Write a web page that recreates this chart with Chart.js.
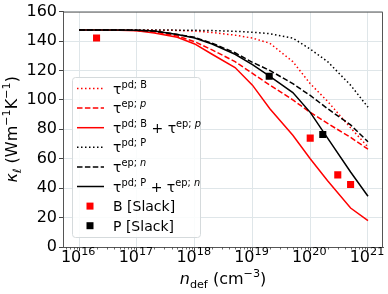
<!DOCTYPE html>
<html lang="en">
<head>
<meta charset="UTF-8">
<title>kappa vs n_def</title>
<style>
  body { margin: 0; padding: 0; background: #fff; }
  canvas { display: block; }
</style>
</head>
<body>
<canvas id="chart" width="388" height="294"></canvas>
<script src="https://cdn.jsdelivr.net/npm/chart.js"></script>
<script>
// defect concentration (cm^-3) where the curves were sampled
const nDef = [1e16, 2e16, 5e16, 1e17, 2e17, 5e17, 1e18, 2e18, 5e18, 1e19, 2e19, 5e19, 1e20, 2e20, 5e20, 1e21];

// boron doped (red)
const kPdB  = [147.5, 147.5, 147.5, 147.5, 147.4, 147.2, 146.8, 145.8, 144, 142, 138.5, 126, 111, 99, 81, 68];
const kEpP  = [147.5, 147.5, 147.4, 147.2, 146.2, 143.5, 139.5, 134, 126, 118, 110, 100, 91.5, 84, 74.5, 66.5];
const kSumB = [147.5, 147.5, 147.3, 147, 145.5, 142.5, 138, 131, 122, 110, 94, 76, 60, 45, 26.5, 18];

// phosphorus doped (black)
const kPdP  = [147.5, 147.5, 147.5, 147.5, 147.5, 147.4, 147.3, 147.1, 146.6, 146, 145, 142, 134.5, 126, 110, 95];
const kEpN  = [147.5, 147.5, 147.5, 147.3, 146.8, 144.5, 142.5, 138.5, 132, 125.5, 120, 111, 103, 94, 83, 71.5];
const kSumP = [147.5, 147.5, 147.5, 147.3, 146.8, 144.5, 142, 138, 131, 124, 116, 105, 91.5, 74, 51, 34.5];

// Slack measurements
const slackBn = [2e16, 1e20, 3e20, 5e20];
const slackBk = [142, 74, 49, 42.5];
const slackPn = [1.95e19, 1.65e20];
const slackPk = [116, 76.5];

const xDecades = [16, 17, 18, 19, 20, 21];
const yTicks = [0, 20, 40, 60, 80, 100, 120, 140, 160];

const RED = '#ff0000';
const BLACK = '#000000';
const FONT = '"DejaVu Sans"';
const DOT = [1.5, 2.5];
const DASH = [5.5, 2.4];

function pts(xs, ys) {
    return xs.map((x, i) => ({ x: x, y: ys[i] }));
}

function lineSet(label, ys, color, dash, order) {
    return {
        label: label,
        data: pts(nDef, ys),
        showLine: true,
        borderColor: color,
        borderWidth: 1.5,
        borderDash: dash,
        pointRadius: 0,
        fill: false,
        order: order
    };
}

// draw text with super/subscripts: parts = [text, mode(0 base, 1 sup, -1 sub), italic]
function rich(ctx, parts, x, y, size, align) {
    let total = 0;
    const items = parts.map(([t, m, it]) => {
        const s = m ? size * 0.7 : size;
        const f = (it ? 'italic ' : '') + s + 'px ' + FONT;
        ctx.font = f;
        const w = ctx.measureText(t).width;
        total += w;
        return { t, m, f, w };
    });
    let cx = align === 'center' ? x - total / 2 : (align === 'right' ? x - total : x);
    ctx.textAlign = 'left';
    ctx.textBaseline = 'alphabetic';
    items.forEach(it => {
        ctx.font = it.f;
        const dy = it.m === 1 ? -size * 0.42 : (it.m === -1 ? size * 0.24 : 0);
        ctx.fillText(it.t, cx, y + dy);
        cx += it.w;
    });
}

const legendItems = [
    { color: RED, dash: DOT, text: [['τ', 0], ['pd; B', 1]] },
    { color: RED, dash: DASH, text: [['τ', 0], ['ep; ', 1], ['p', 1, true]] },
    { color: RED, dash: [], text: [['τ', 0], ['pd; B', 1], [' + τ', 0], ['ep; ', 1], ['p', 1, true]] },
    { color: BLACK, dash: DOT, text: [['τ', 0], ['pd; P', 1]] },
    { color: BLACK, dash: DASH, text: [['τ', 0], ['ep; ', 1], ['n', 1, true]] },
    { color: BLACK, dash: [], text: [['τ', 0], ['pd; P', 1], [' + τ', 0], ['ep; ', 1], ['n', 1, true]] },
    { color: RED, marker: true, text: [['B [Slack]', 0]] },
    { color: BLACK, marker: true, text: [['P [Slack]', 0]] }
];

const decorPlugin = {
    id: 'decor',
    afterDatasetsDraw(chart) {
        const ctx = chart.ctx;
        const a = chart.chartArea;
        const xs = chart.scales.x;
        ctx.save();
        // top and right spines
        ctx.strokeStyle = '#555';
        ctx.lineWidth = 1;
        ctx.beginPath();
        ctx.moveTo(a.left, a.top + 0.5);
        ctx.lineTo(a.right - 0.5, a.top + 0.5);
        ctx.lineTo(a.right - 0.5, a.bottom);
        ctx.stroke();

        // minor log ticks
        ctx.strokeStyle = '#444';
        ctx.lineWidth = 0.8;
        for (let e = 15; e <= 21; e++) {
            for (let k = 2; k <= 9; k++) {
                const v = k * Math.pow(10, e);
                if (v < xs.min || v > xs.max) continue;
                const px = Math.round(xs.getPixelForValue(v)) + 0.5;
                ctx.beginPath();
                ctx.moveTo(px, a.bottom);
                ctx.lineTo(px, a.bottom + 2.5);
                ctx.stroke();
            }
        }

        // legend
        const lx = 72, ly = 77, lw = 128, lh = 160, r = 3;
        ctx.fillStyle = 'rgba(255,255,255,0.85)';
        ctx.strokeStyle = '#d5dadc';
        ctx.lineWidth = 1;
        ctx.beginPath();
        ctx.roundRect(lx + 0.5, ly + 0.5, lw, lh, r);
        ctx.fill();
        ctx.stroke();
        legendItems.forEach((item, i) => {
            const cy = 88.5 + i * 19.6;
            if (item.marker) {
                ctx.fillStyle = item.color;
                ctx.fillRect(86.5, cy - 3.5, 7, 7);
            } else {
                ctx.strokeStyle = item.color;
                ctx.lineWidth = 1.5;
                ctx.setLineDash(item.dash);
                ctx.beginPath();
                ctx.moveTo(77, cy);
                ctx.lineTo(104, cy);
                ctx.stroke();
                ctx.setLineDash([]);
            }
            ctx.fillStyle = '#000';
            rich(ctx, item.text, 113, cy + 5, 14, 'left');
        });
        ctx.restore();
    },
    afterDraw(chart) {
        const ctx = chart.ctx;
        const a = chart.chartArea;
        const xs = chart.scales.x;
        ctx.save();
        ctx.fillStyle = '#000';
        // x tick labels 10^n
        xDecades.forEach(e => {
            const px = xs.getPixelForValue(Math.pow(10, e));
            rich(ctx, [['10', 0], [String(e), 1]], px - 1, 262, 16, 'center');
        });
        // x title
        rich(ctx, [['n', 0, true], ['def', -1], [' (cm', 0], ['−3', 1], [')', 0]], (a.left + a.right) / 2, 284, 16, 'center');
        // y title
        ctx.translate(17, (a.top + a.bottom) / 2);
        ctx.rotate(-Math.PI / 2);
        rich(ctx, [['κ', 0, true], ['ℓ', -1, true], [' (Wm', 0], ['−1', 1], ['K', 0], ['−1', 1], [')', 0]], 0, 0, 16, 'center');
        ctx.restore();
    }
};

new Chart(document.getElementById('chart'), {
    type: 'scatter',
    data: {
        datasets: [
            lineSet('τpd;B', kPdB, RED, DOT, 8),
            lineSet('τep;p', kEpP, RED, DASH, 7),
            lineSet('τpd;B + τep;p', kSumB, RED, [], 6),
            lineSet('τpd;P', kPdP, BLACK, DOT, 5),
            lineSet('τep;n', kEpN, BLACK, DASH, 4),
            lineSet('τpd;P + τep;n', kSumP, BLACK, [], 3),
            {
                label: 'B [Slack]',
                data: pts(slackBn, slackBk),
                pointStyle: 'rect',
                pointRadius: 5,
                backgroundColor: RED,
                borderWidth: 0,
                order: 2
            },
            {
                label: 'P [Slack]',
                data: pts(slackPn, slackPk),
                pointStyle: 'rect',
                pointRadius: 5,
                backgroundColor: BLACK,
                borderWidth: 0,
                order: 1
            }
        ]
    },
    options: {
        responsive: false,
        animation: false,
        devicePixelRatio: 1,
        layout: { padding: { left: 0, right: 4, top: 7, bottom: 0 } },
        plugins: { legend: { display: false }, tooltip: { enabled: false } },
        scales: {
            x: {
                type: 'logarithmic',
                min: Math.pow(10, 15.72),
                max: Math.pow(10, 21.26),
                afterBuildTicks(scale) {
                    scale.ticks = xDecades.map(e => ({ value: Math.pow(10, e) }));
                },
                afterFit(scale) { scale.height = 47; },
                ticks: { callback: () => '', autoSkip: false, maxRotation: 0 },
                grid: { color: '#dfe6e9', tickColor: '#444', tickLength: 4, lineWidth: 1 },
                border: { color: '#555', width: 1 }
            },
            y: {
                min: 0,
                max: 160,
                afterBuildTicks(scale) {
                    scale.ticks = yTicks.map(v => ({ value: v }));
                },
                afterFit(scale) { scale.width = 63; },
                ticks: { color: '#000', padding: 2, font: { family: 'DejaVu Sans', size: 16 } },
                grid: { color: '#dfe6e9', tickColor: '#444', tickLength: 4, lineWidth: 1 },
                border: { color: '#555', width: 1 }
            }
        }
    },
    plugins: [decorPlugin]
});
</script>
</body>
</html>
